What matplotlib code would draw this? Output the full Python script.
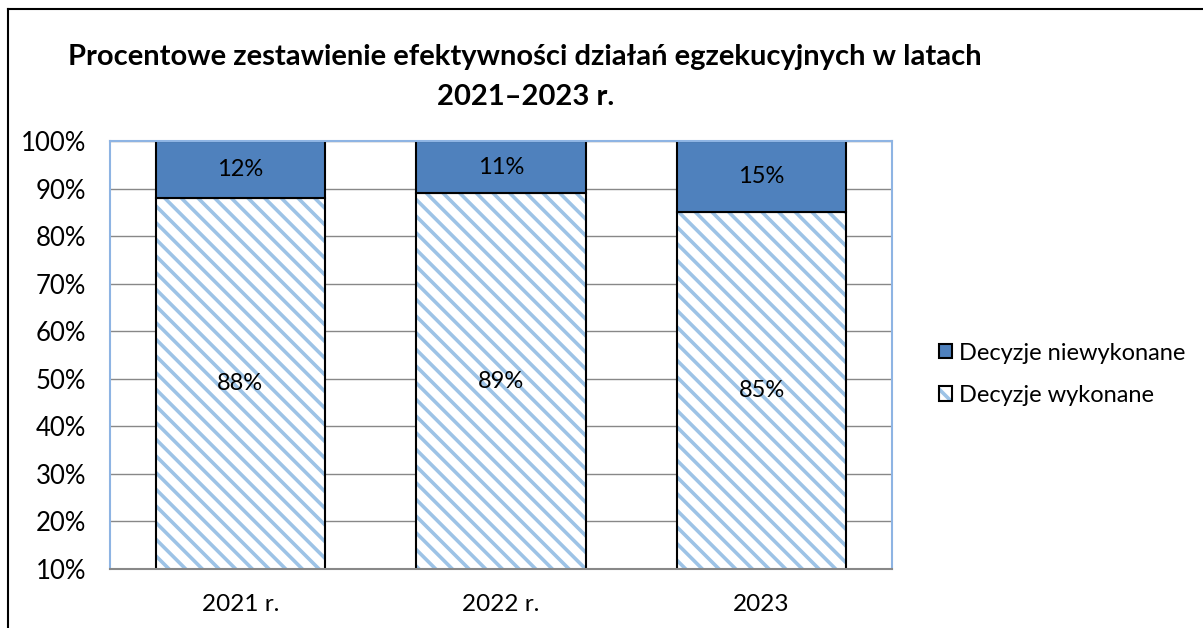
import matplotlib
matplotlib.use('Agg')
import matplotlib.pyplot as plt
from matplotlib.lines import Line2D
from matplotlib.patches import Patch
from matplotlib.ticker import FuncFormatter

years = ['2021 r.', '2022 r.', '2023']
wykonane = [88, 89, 85]
niewykonane = [12, 11, 15]
y_ticks = [10, 20, 30, 40, 50, 60, 70, 80, 90, 100]

plt.rcParams['font.family'] = ['Lato', 'DejaVu Sans']
plt.rcParams['hatch.linewidth'] = 2.6

HATCH_BLUE = '#9dc3e6'
DARK_BLUE = '#4f81bd'

fig = plt.figure(figsize=(12.03, 6.28), dpi=100)
ax = fig.add_axes([0.0914, 0.094, 0.650, 0.6815])

x = range(len(years))
# hatch takes the edge colour, so draw the stripes and the black outline separately
ax.bar(x, wykonane, width=0.65, color='white', edgecolor=HATCH_BLUE,
       linewidth=0, hatch='\\\\', zorder=2)
ax.bar(x, wykonane, width=0.65, fill=False, edgecolor='black', linewidth=1.5, zorder=2)
ax.bar(x, niewykonane, width=0.65, bottom=wykonane, color=DARK_BLUE,
       edgecolor='black', linewidth=1.5, zorder=2)

ymin = y_ticks[0]
for i in x:
    ax.text(i, (ymin + wykonane[i]) / 2, f'{wykonane[i]}%', ha='center', va='center',
            fontsize=17, zorder=3)
    ax.text(i, wykonane[i] + niewykonane[i] / 2, f'{niewykonane[i]}%', ha='center',
            va='center', fontsize=17, zorder=3)

ax.set_ylim(ymin, 100)
ax.set_xlim(-0.5, len(years) - 0.5)
ax.set_yticks(y_ticks)
ax.yaxis.set_major_formatter(FuncFormatter(lambda v, p: f'{v:.0f}%'))
ax.set_xticks(list(x), years)
ax.tick_params(axis='y', length=0, labelsize=18.5, pad=17)
ax.tick_params(axis='x', length=0, labelsize=17.5, pad=18)
ax.grid(axis='y', color='#888888', linewidth=1, zorder=0)
for side in ['left', 'top', 'right']:
    ax.spines[side].set_color('#8eb4e3')
    ax.spines[side].set_linewidth(1.5)
ax.spines['bottom'].set_color('#888888')
ax.spines['bottom'].set_linewidth(1.5)

key_nie = Patch(facecolor=DARK_BLUE, edgecolor='black', linewidth=1.5)
key_wyk = (Patch(facecolor='white', edgecolor=HATCH_BLUE, linewidth=0, hatch='\\\\'),
           Patch(fill=False, edgecolor='black', linewidth=1.5))
fig.legend([key_nie, key_wyk], ['Decyzje niewykonane', 'Decyzje wykonane'],
           loc='center left', bbox_to_anchor=(0.763, 0.404), frameon=False,
           fontsize=17, handlelength=0.55, handleheight=0.55,
           handletextpad=0.3, labelspacing=0.9)

fig.text(0.436, 0.909, 'Procentowe zestawienie efektywności działań egzekucyjnych w latach',
         ha='center', va='center', fontsize=21, fontweight='bold')
fig.text(0.437, 0.846, '2021–2023 r.', ha='center', va='center', fontsize=21,
         fontweight='bold')

# frame of the chart area
fig.add_artist(Line2D([0.00665, 0.00665], [0, 0.9857], color='black', linewidth=1.5))
fig.add_artist(Line2D([0.00665, 1.0], [0.9857, 0.9857], color='black', linewidth=1.5))

fig.savefig('out.png', dpi=100)
